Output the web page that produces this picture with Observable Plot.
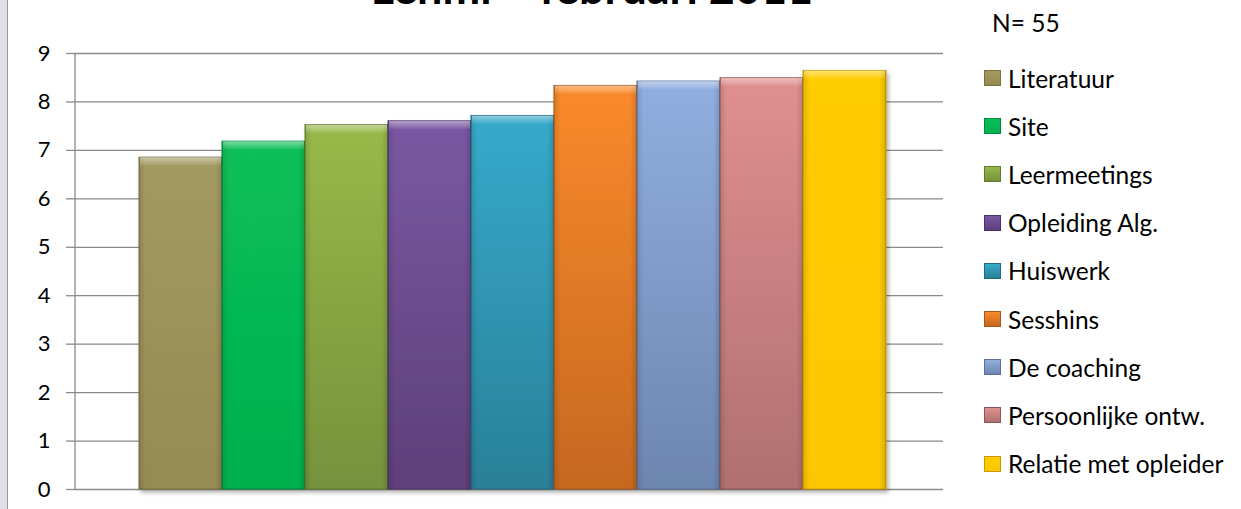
<!DOCTYPE html>
<html>
<head>
<meta charset="utf-8">
<script src="https://cdn.jsdelivr.net/npm/d3@7"></script>
<script src="https://cdn.jsdelivr.net/npm/@observablehq/plot@0.6"></script>
<style>
  html, body { margin: 0; padding: 0; background: #fff; overflow: hidden; }
  #page { position: relative; width: 1241px; height: 509px; overflow: hidden; font-family: Lato, "Open Sans", sans-serif; color: #000; }
  #strip { position: absolute; left: 0; top: 0; width: 7px; height: 509px; background: #e3deeb; border-right: 1px solid #9a9a9a; }
  #title { position: absolute; top: -35px; left: 592px; transform: translateX(-50%); font-weight: 700; font-size: 45px; line-height: 1; white-space: nowrap; }
  #chart { position: absolute; left: 0; top: 0; }
  #n { position: absolute; left: 992px; top: 10px; font-size: 24.5px; line-height: 26px; white-space: nowrap; }
  .item { position: absolute; left: 984px; height: 26px; display: flex; align-items: center; font-size: 24.5px; white-space: nowrap; }
  .sw { width: 17px; height: 16px; margin-right: 7px; box-sizing: border-box; }
</style>
</head>
<body>
<div id="page">
  <div id="strip"></div>
  <div id="chart"></div>
  <div id="title">Lehmi – februari 2011</div>
  <div id="n">N= 55</div>
  <div id="legend"></div>
</div>
<script>
const categories = ["Literatuur", "Site", "Leermeetings", "Opleiding Alg.", "Huiswerk", "Sesshins", "De coaching", "Persoonlijke ontw.", "Relatie met opleider"];
const values = [6.85, 7.18, 7.52, 7.60, 7.71, 8.33, 8.42, 8.49, 8.64];
const topColors = ["#a39a62", "#08bf58", "#97b948", "#7a58a2", "#35aacb", "#fa8a2c", "#91aee0", "#e08f8f", "#ffcc00"];
const bottomColors = ["#958b52", "#04b04e", "#76923c", "#5e3f7a", "#2a8098", "#c6681f", "#6d86b0", "#b07070", "#fdc700"];
const edgeColors = ["#7a7040", "#03883c", "#5f7a2c", "#4b3066", "#206a80", "#a8561a", "#5a7098", "#8f5656", "#c89a00"];
const yTicks = [0, 1, 2, 3, 4, 5, 6, 7, 8, 9];

const data = categories.map((c, i) => ({category: c, value: values[i], i}));

const defs = () => {
  const d = d3.create("svg:defs");
  data.forEach(({i}) => {
    const g = d.append("linearGradient").attr("id", "g" + i).attr("x1", 0).attr("y1", 0).attr("x2", 0).attr("y2", 1);
    g.append("stop").attr("offset", "0%").attr("stop-color", topColors[i]);
    g.append("stop").attr("offset", "100%").attr("stop-color", bottomColors[i]);
  });
  const h = d.append("linearGradient").attr("id", "hl").attr("x1", 0).attr("y1", 0).attr("x2", 0).attr("y2", 1);
  h.append("stop").attr("offset", "0%").attr("stop-color", "#fff").attr("stop-opacity", 0.45);
  h.append("stop").attr("offset", "100%").attr("stop-color", "#fff").attr("stop-opacity", 0.05);
  const sgrad = d.append("linearGradient").attr("id", "side").attr("x1", 0).attr("y1", 0).attr("x2", 1).attr("y2", 0);
  sgrad.append("stop").attr("offset", "0%").attr("stop-color", "#000").attr("stop-opacity", 0.12);
  sgrad.append("stop").attr("offset", "8%").attr("stop-color", "#000").attr("stop-opacity", 0);
  sgrad.append("stop").attr("offset", "92%").attr("stop-color", "#000").attr("stop-opacity", 0);
  sgrad.append("stop").attr("offset", "100%").attr("stop-color", "#000").attr("stop-opacity", 0.15);
  const f = d.append("filter").attr("id", "shadow").attr("x", "-10%").attr("y", "-10%").attr("width", "130%").attr("height", "130%");
  f.append("feDropShadow").attr("dx", 2).attr("dy", 3).attr("stdDeviation", 2).attr("flood-color", "#000").attr("flood-opacity", 0.3);
  return d.node();
};

const yAxisLine = (index, scales, values, dims) => {
  const l = d3.create("svg:line")
    .attr("x1", dims.marginLeft).attr("x2", dims.marginLeft)
    .attr("y1", dims.marginTop).attr("y2", dims.height - dims.marginBottom)
    .attr("stroke", "#8a8a8a").attr("stroke-width", 1.3);
  return l.node();
};

const plot = Plot.plot({
  width: 943,
  height: 509,
  marginLeft: 75,
  marginRight: 0,
  marginTop: 53,
  marginBottom: 20,
  style: {fontFamily: "Lato, 'Open Sans', sans-serif", fontSize: "22px", color: "#000", background: "transparent"},
  x: {domain: categories, range: [136, 888], padding: 0, axis: null},
  y: {domain: [0, 9], ticks: yTicks},
  marks: [
    defs,
    Plot.gridY(yTicks, {stroke: "#8a8a8a", strokeOpacity: 1, strokeWidth: 1.3}),
    Plot.axisY(yTicks, {tickSize: 9, tickPadding: 16, stroke: "#8a8a8a", strokeWidth: 1.3, label: null, fontSize: 22, fill: "#000"}),
    yAxisLine,
    Plot.barY(data, {x: "category", y: "value", fill: d => `url(#g${d.i})`, stroke: d => edgeColors[d.i], strokeWidth: 1}),
    Plot.barY(data, {x: "category", y: "value", fill: "url(#side)"}),
    Plot.barY(data, {x: "category", y1: d => d.value - 0.17, y2: "value", fill: "url(#hl)", insetLeft: 1, insetRight: 1}),
  ]
});
const barGroups = plot.querySelectorAll("g[aria-label='bar']");
if (barGroups.length) barGroups[0].setAttribute("filter", "url(#shadow)");
document.getElementById("chart").appendChild(plot);

const legend = document.getElementById("legend");
categories.forEach((c, i) => {
  const it = document.createElement("div");
  it.className = "item";
  it.style.top = (78 + 48.2 * i - 13) + "px";
  const sw = document.createElement("div");
  sw.className = "sw";
  sw.style.background = `linear-gradient(${topColors[i]}, ${bottomColors[i]})`;
  sw.style.border = `1px solid ${edgeColors[i]}`;
  it.appendChild(sw);
  const t = document.createElement("span");
  t.textContent = c;
  it.appendChild(t);
  legend.appendChild(it);
});
</script>
</body>
</html>
